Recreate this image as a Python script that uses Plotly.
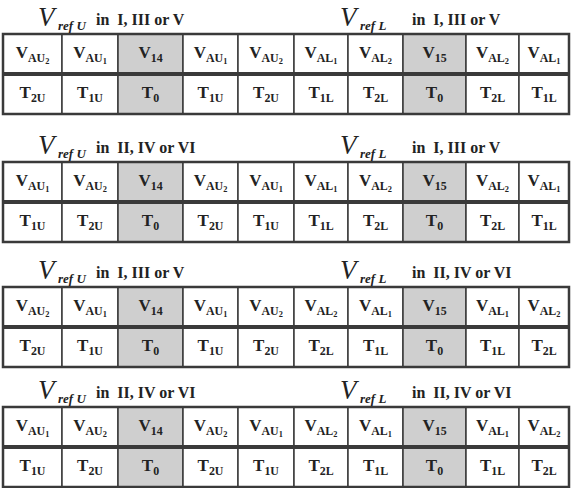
import plotly.graph_objects as go

# sector of the reference vectors, one entry per block
upper_sector = ["I, III or V", "II, IV or VI", "I, III or V", "II, IV or VI"]
lower_sector = ["I, III or V", "I, III or V", "II, IV or VI", "II, IV or VI"]

# switching sequence (vector subscripts) per block
vectors = [
    ["AU2", "AU1", "14", "AU1", "AU2", "AL1", "AL2", "15", "AL2", "AL1"],
    ["AU1", "AU2", "14", "AU2", "AU1", "AL1", "AL2", "15", "AL2", "AL1"],
    ["AU2", "AU1", "14", "AU1", "AU2", "AL2", "AL1", "15", "AL1", "AL2"],
    ["AU1", "AU2", "14", "AU2", "AU1", "AL2", "AL1", "15", "AL1", "AL2"],
]
# dwell times (T subscripts) per block
times = [
    ["2U", "1U", "0", "1U", "2U", "1L", "2L", "0", "2L", "1L"],
    ["1U", "2U", "0", "2U", "1U", "1L", "2L", "0", "2L", "1L"],
    ["2U", "1U", "0", "1U", "2U", "2L", "1L", "0", "1L", "2L"],
    ["1U", "2U", "0", "2U", "1U", "2L", "1L", "0", "1L", "2L"],
]

# layout (pixels)
col_edges = [3, 62, 118, 183, 238, 294, 348, 403, 466, 519, 569]
block_top = [34, 162, 287, 407]
row_h = 40
line_col = "#3a3a3a"
shade = "#cfcfcf"
serif = "Liberation Serif"


def v_label(s):
    if s.isdigit():
        return "V<sub>%s</sub>" % s
    return "V<sub>%s<sub>%s</sub></sub>" % (s[:-1], s[-1])


def t_label(s):
    return "T<sub>%s</sub>" % s


shapes = []
xs, ys, txt = [], [], []
for b in range(4):
    top = block_top[b]
    for c in range(10):
        x0, x1 = col_edges[c], col_edges[c + 1]
        fill = shade if vectors[b][c].isdigit() else "white"
        for r, lab in enumerate([v_label(vectors[b][c]), t_label(times[b][c])]):
            y0 = top + r * row_h
            shapes.append(dict(type="rect", xref="x", yref="y", x0=x0, x1=x1,
                               y0=y0, y1=y0 + row_h, fillcolor=fill,
                               line=dict(color=line_col, width=1.5), layer="below"))
            xs.append((x0 + x1) / 2)
            ys.append(y0 + row_h / 2)
            txt.append(lab)
    # outer frame and thick separator
    shapes.append(dict(type="rect", xref="x", yref="y", x0=col_edges[0], x1=col_edges[-1],
                       y0=top, y1=top + 2 * row_h, line=dict(color=line_col, width=2.5)))
    shapes.append(dict(type="line", xref="x", yref="y", x0=col_edges[0], x1=col_edges[-1],
                       y0=top + row_h, y1=top + row_h, line=dict(color=line_col, width=4)))

annotations = []
for b in range(4):
    ty = block_top[b] - 17
    for xv, xin, tag, sec in [(36, 94, "U", upper_sector[b]), (338, 410, "L", lower_sector[b])]:
        annotations.append(dict(x=xv, y=ty, xref="x", yref="y", xanchor="left", yanchor="middle",
                                showarrow=False, text="<i>V</i>",
                                font=dict(family=serif, size=27, color="#222")))
        annotations.append(dict(x=xv + 20, y=ty + 8, xref="x", yref="y", xanchor="left",
                                yanchor="middle", showarrow=False,
                                text="<b><i>ref %s</i></b>" % tag,
                                font=dict(family=serif, size=13, color="#222")))
        annotations.append(dict(x=xin, y=ty + 2, xref="x", yref="y", xanchor="left", yanchor="middle",
                                showarrow=False, text="<b>in  %s</b>" % sec,
                                font=dict(family=serif, size=16, color="#222")))

fig = go.Figure(go.Scatter(x=xs, y=ys, mode="text", text=txt, hoverinfo="skip",
                           textfont=dict(family=serif, size=17, color="#222", weight="bold")))

fig.update_layout(
    width=571, height=488, autosize=False,
    margin=dict(l=0, r=0, t=0, b=0),
    paper_bgcolor="white", plot_bgcolor="white",
    showlegend=False,
    xaxis=dict(range=[0, 571], visible=False, fixedrange=True),
    yaxis=dict(range=[488, 0], visible=False, fixedrange=True),
    shapes=shapes, annotations=annotations,
)

fig.write_html("out.html", config={"displayModeBar": False},
               post_script="document.body.style.margin='0';")
